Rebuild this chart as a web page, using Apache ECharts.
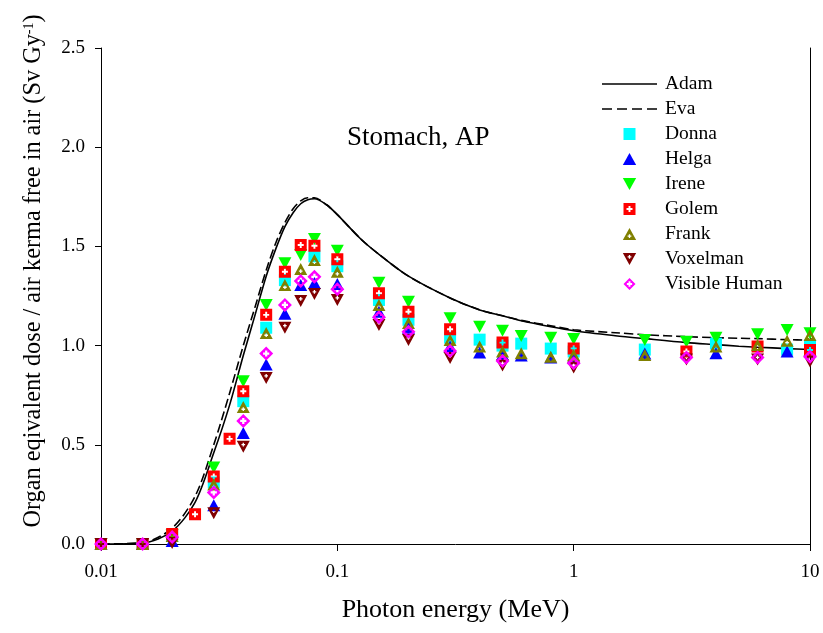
<!DOCTYPE html>
<html><head><meta charset="utf-8">
<script src="https://cdn.jsdelivr.net/npm/echarts@6/dist/echarts.min.js"></script>
<style>html,body{margin:0;padding:0;background:#fff}#c{width:823px;height:633px}</style>
</head><body><div id="c"></div>
<script>
// ---- data ----
const curveEnergies = [0.01,0.015,0.02,0.025,0.03,0.035,0.04,0.045,0.05,0.055,0.06,0.065,0.07,0.075,0.08,0.09,0.1,0.125,0.15,0.2,0.3,0.4,0.5,0.6,0.8,1,1.5,2,3,4,5,6,8,10];
const adamValues = [0,0.005,0.065,0.21,0.46,0.70,0.95,1.16,1.35,1.49,1.60,1.67,1.715,1.735,1.74,1.71,1.66,1.54,1.46,1.35,1.24,1.18,1.15,1.125,1.095,1.075,1.05,1.035,1.015,1.005,0.997,0.992,0.985,0.98];
const evaValues  = [0,0.007,0.08,0.24,0.50,0.76,1.00,1.20,1.38,1.52,1.62,1.69,1.73,1.745,1.745,1.71,1.66,1.54,1.46,1.35,1.24,1.18,1.15,1.127,1.10,1.08,1.065,1.055,1.045,1.04,1.037,1.035,1.03,1.028];

const donnaE = [0.01,0.015,0.02,0.03,0.04,0.05,0.06,0.08,0.1,0.15,0.2,0.3,0.4,0.5,0.6,0.8,1,2,4,8,10];
const donnaV = [0,0,0.04,0.31,0.72,1.09,1.33,1.45,1.40,1.23,1.13,1.04,1.03,1.0,1.01,0.985,0.97,0.98,1.01,0.98,1.0];
const helgaE = [0.01,0.015,0.02,0.03,0.04,0.05,0.06,0.07,0.08,0.1,0.15,0.2,0.3,0.4,0.5,0.6,0.8,1,2,4,8];
const helgaV = [0,0,0.015,0.195,0.56,0.905,1.16,1.305,1.315,1.31,1.17,1.09,0.995,0.965,0.955,0.95,0.94,0.94,0.96,0.962,0.97];
const ireneE = [0.01,0.015,0.02,0.03,0.04,0.05,0.06,0.07,0.08,0.1,0.15,0.2,0.3,0.4,0.5,0.6,0.8,1,2,3,4,6,8,10];
const ireneV = [0,0,0.045,0.385,0.82,1.205,1.415,1.457,1.537,1.478,1.317,1.221,1.138,1.095,1.075,1.048,1.04,1.033,1.028,1.02,1.04,1.057,1.079,1.062];
const golemE = [0.01,0.015,0.02,0.025,0.03,0.035,0.04,0.05,0.06,0.07,0.08,0.1,0.15,0.2,0.3,0.5,1,3,6,10];
const golemV = [0,0,0.05,0.15,0.34,0.53,0.77,1.155,1.372,1.507,1.503,1.435,1.264,1.171,1.082,1.015,0.986,0.97,0.995,0.978];
const frankE = [0.01,0.015,0.02,0.03,0.04,0.05,0.06,0.07,0.08,0.1,0.15,0.2,0.3,0.4,0.5,0.6,0.8,1,2,4,6,8,10];
const frankV = [0,0,0.04,0.30,0.69,1.063,1.305,1.386,1.431,1.372,1.205,1.114,1.028,0.995,0.97,0.961,0.944,0.953,0.953,0.995,1.003,1.025,1.053];
const voxelE = [0.01,0.015,0.02,0.03,0.04,0.05,0.06,0.07,0.08,0.1,0.15,0.2,0.3,0.5,1,3,6,10];
const voxelV = [0,0,0.005,0.155,0.49,0.837,1.09,1.225,1.26,1.23,1.104,1.028,0.937,0.9,0.89,0.93,0.93,0.92];
const vhE = [0.01,0.015,0.02,0.03,0.04,0.05,0.06,0.07,0.08,0.1,0.15,0.2,0.3,0.5,1,3,6,10];
const vhV = [0,0,0.035,0.26,0.62,0.96,1.205,1.326,1.347,1.284,1.143,1.07,0.973,0.922,0.911,0.94,0.94,0.944];

const xTickLabels = ['0.01','0.1','1','10'];
const yTickLabels = ['0.0','0.5','1.0','1.5','2.0','2.5'];

// ---- rendering ----
const FF = '"Liberation Serif", "Times New Roman", serif';
const zip = (e, v) => e.map((x, i) => [x, v[i]]);

const SQ = 'path://M0,0 L100,0 L100,100 L0,100 Z';
const TRI_UP = 'path://M50,0 L100,90 L0,90 Z';
const SQ_PLUS = 'path://M0,0 L100,0 L100,100 L0,100 Z M42,25 L42,42 L25,42 L25,58 L42,58 L42,75 L58,75 L58,58 L75,58 L75,42 L58,42 L58,25 Z';
const TRI_UP_PLUS = 'path://M50,0 L100,90 L0,90 Z M45,47 L45,56 L36,56 L36,66 L45,66 L45,75 L55,75 L55,66 L64,66 L64,56 L55,56 L55,47 Z';
const TRI_DN = 'path://M0,0 L100,0 L50,90 Z';
const TRI_DN_PLUS = 'path://M0,0 L100,0 L50,90 Z M45,15 L45,24 L36,24 L36,34 L45,34 L45,43 L55,43 L55,34 L64,34 L64,24 L55,24 L55,15 Z';
const DIA_PLUS = 'path://M50,0 L100,50 L50,100 L0,50 Z M42,28 L42,42 L28,42 L28,58 L42,58 L42,72 L58,72 L58,58 L72,58 L72,42 L58,42 L58,28 Z';
const LINE_ICON = 'path://M0,0 L55,0 L55,1.6 L0,1.6 Z';
const DASH_ICON = 'path://M0,0 L10,0 L10,1.6 L0,1.6 Z M15,0 L25,0 L25,1.6 L15,1.6 Z M30,0 L40,0 L40,1.6 L30,1.6 Z M45,0 L55,0 L55,1.6 L45,1.6 Z';

function scat(name, e, v, symbol, size, color) {
  return { name, type: 'scatter', data: zip(e, v), symbol, symbolSize: size,
    itemStyle: { color, opacity: 1 }, emphasis: { disabled: true }, z: 3 };
}

const chart = echarts.init(document.getElementById('c'), null, { renderer: 'canvas' });
chart.setOption({
  animation: false,
  backgroundColor: '#fff',
  grid: { left: 101, right: 13, top: 48, bottom: 89 },
  xAxis: {
    type: 'log', logBase: 10, min: 0.01, max: 10,
    axisLine: { show: true, lineStyle: { color: '#000', width: 1 } },
    axisTick: { show: true, inside: false, length: 7, lineStyle: { color: '#000' } },
    minorTick: { show: false },
    splitLine: { show: false },
    axisLabel: { margin: 19, color: '#000', fontSize: 19, fontFamily: FF,
      formatter: (v) => { const i = Math.round(Math.log10(v) + 2); return xTickLabels[i] !== undefined ? xTickLabels[i] : ''; } },
    name: 'Photon energy (MeV)', nameLocation: 'middle', nameGap: 53,
    nameTextStyle: { fontSize: 26, fontFamily: FF, color: '#000' }
  },
  yAxis: [{
    type: 'value', min: 0, max: 2.5, interval: 0.5,
    axisLine: { show: true, lineStyle: { color: '#000', width: 1 } },
    axisTick: { show: true, inside: false, length: 6, lineStyle: { color: '#000' } },
    splitLine: { show: false },
    axisLabel: { margin: 16, color: '#000', fontSize: 19, fontFamily: FF,
      formatter: (v) => yTickLabels[Math.round(v / 0.5)] }
  }, {
    type: 'value', min: 0, max: 2.5, position: 'right',
    axisLine: { show: true, lineStyle: { color: '#000', width: 1 } },
    axisTick: { show: false }, axisLabel: { show: false }, splitLine: { show: false }
  }],
  legend: {
    orient: 'vertical', left: 597, top: 69, itemWidth: 55, itemHeight: 12, itemGap: 5,
    selectedMode: false, symbolKeepAspect: true,
    textStyle: { fontSize: 19.5, fontFamily: FF, color: '#000', lineHeight: 19, padding: [0, 0, 0, 3] },
    data: [
      { name: 'Adam', icon: LINE_ICON },
      { name: 'Eva', icon: DASH_ICON },
      { name: 'Donna', icon: SQ },
      { name: 'Helga', icon: TRI_UP },
      { name: 'Irene', icon: TRI_DN },
      { name: 'Golem', icon: SQ_PLUS },
      { name: 'Frank', icon: TRI_UP_PLUS },
      { name: 'Voxelman', icon: TRI_DN_PLUS },
      { name: 'Visible Human', icon: DIA_PLUS }
    ]
  },
  graphic: [{
    type: 'text', x: 34, y: 271, rotation: Math.PI / 2,
    style: {
      text: '{m|Organ eqivalent dose / air kerma free in air (Sv Gy}{s|-1}{m|)}',
      align: 'center', verticalAlign: 'middle', fill: '#000',
      rich: { m: { fontSize: 24.3, fontFamily: FF, fill: '#000' }, s: { fontSize: 14, fontFamily: FF, fill: '#000', verticalAlign: 'top' } }
    }
  }, {
    type: 'text', left: 347, top: 124,
    style: { text: 'Stomach, AP', fontSize: 27, fontFamily: FF, fill: '#000' }
  }],
  series: [
    { name: 'Adam', type: 'line', data: zip(curveEnergies, adamValues), symbol: 'none', smooth: 0.3,
      lineStyle: { color: '#000', width: 1.6, type: 'solid' }, itemStyle: { color: '#000' }, z: 2 },
    { name: 'Eva', type: 'line', data: zip(curveEnergies, evaValues), symbol: 'none', smooth: 0.3,
      lineStyle: { color: '#000', width: 1.6, type: [9, 4] }, itemStyle: { color: '#000' }, z: 2 },
    scat('Donna', donnaE, donnaV, SQ, [12, 12], '#00FFFF'),
    scat('Helga', helgaE, helgaV, TRI_UP, [13, 12], '#0000FF'),
    scat('Irene', ireneE, ireneV, TRI_DN, [13, 12], '#00FF00'),
    scat('Golem', golemE, golemV, SQ_PLUS, [12, 12], '#FF0000'),
    scat('Frank', frankE, frankV, TRI_UP_PLUS, [13, 12], '#808000'),
    scat('Voxelman', voxelE, voxelV, TRI_DN_PLUS, [13, 12], '#800000'),
    scat('Visible Human', vhE, vhV, DIA_PLUS, [14, 14], '#FF00FF')
  ]
});
</script></body></html>
